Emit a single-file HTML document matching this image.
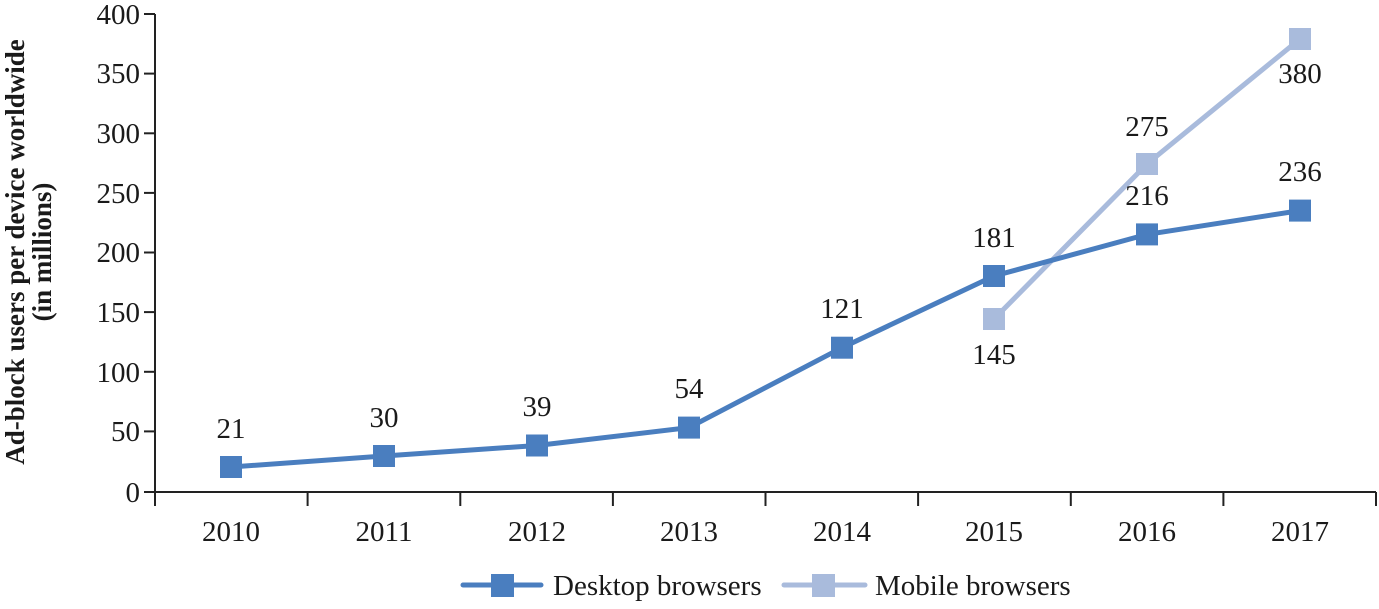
<!DOCTYPE html>
<html><head><meta charset="utf-8"><style>
body{margin:0;background:#fff}
svg text{font-family:"Liberation Serif",serif;fill:#1a1a1a}
</style></head><body>
<svg width="1379" height="604" viewBox="0 0 1379 604" xmlns="http://www.w3.org/2000/svg">
<g stroke="#222" stroke-width="2" fill="none">
<line x1="155" y1="14" x2="155" y2="506"/>
<line x1="155" y1="492" x2="1376" y2="492"/>
<line x1="144" y1="14" x2="155" y2="14"/>
<line x1="144" y1="73.6" x2="155" y2="73.6"/>
<line x1="144" y1="133.3" x2="155" y2="133.3"/>
<line x1="144" y1="192.9" x2="155" y2="192.9"/>
<line x1="144" y1="252.5" x2="155" y2="252.5"/>
<line x1="144" y1="312.1" x2="155" y2="312.1"/>
<line x1="144" y1="371.8" x2="155" y2="371.8"/>
<line x1="144" y1="431.4" x2="155" y2="431.4"/>
<line x1="144" y1="492" x2="155" y2="492"/>
<line x1="307.6" y1="492" x2="307.6" y2="506"/>
<line x1="460.3" y1="492" x2="460.3" y2="506"/>
<line x1="612.9" y1="492" x2="612.9" y2="506"/>
<line x1="765.5" y1="492" x2="765.5" y2="506"/>
<line x1="918.1" y1="492" x2="918.1" y2="506"/>
<line x1="1070.8" y1="492" x2="1070.8" y2="506"/>
<line x1="1223.4" y1="492" x2="1223.4" y2="506"/>
<line x1="1376" y1="492" x2="1376" y2="506"/>
</g>
<g font-size="29" text-anchor="end">
<text x="140" y="24">400</text><text x="140" y="83">350</text><text x="140" y="143">300</text>
<text x="140" y="203">250</text><text x="140" y="262">200</text><text x="140" y="322">150</text>
<text x="140" y="382">100</text><text x="140" y="441">50</text><text x="140" y="502">0</text>
</g>
<g font-size="29" text-anchor="middle">
<text x="231" y="541">2010</text><text x="384" y="541">2011</text><text x="537" y="541">2012</text>
<text x="689" y="541">2013</text><text x="842" y="541">2014</text><text x="994" y="541">2015</text>
<text x="1147" y="541">2016</text><text x="1300" y="541">2017</text>
</g>
<g font-size="27" font-weight="bold" text-anchor="middle">
<text transform="translate(24,252) rotate(-90)">Ad-block users per device worldwide</text>
<text transform="translate(51,252) rotate(-90)">(in millions)</text>
</g>
<polyline fill="none" stroke="#a9bbdc" stroke-width="5" points="994,319 1147,164 1300,38.9"/>
<g fill="#a9bbdc">
<rect x="983" y="308" width="22" height="22"/><rect x="1136" y="153" width="22" height="22"/><rect x="1289" y="28" width="22" height="22"/>
</g>
<polyline fill="none" stroke="#4a7ebf" stroke-width="5" points="231,467 384,456 537,445.5 689,427.6 842,347.7 994,276 1147,234.4 1300,210.6"/>
<g fill="#4a7ebf">
<rect x="220" y="456" width="22" height="22"/><rect x="373" y="445" width="22" height="22"/><rect x="526" y="434.5" width="22" height="22"/>
<rect x="678" y="416.6" width="22" height="22"/><rect x="831" y="336.7" width="22" height="22"/><rect x="983" y="265" width="22" height="22"/>
<rect x="1136" y="223.4" width="22" height="22"/><rect x="1289" y="199.6" width="22" height="22"/>
</g>
<g font-size="29" text-anchor="middle">
<text x="231" y="438">21</text><text x="384" y="427">30</text><text x="537" y="416">39</text>
<text x="689" y="398">54</text><text x="842" y="318">121</text><text x="994" y="247">181</text>
<text x="1147" y="205">216</text><text x="1300" y="181">236</text>
<text x="994" y="364">145</text><text x="1147" y="136">275</text><text x="1300" y="83">380</text>
</g>
<line x1="463" y1="585" x2="541" y2="585" stroke="#4a7ebf" stroke-width="5" stroke-linecap="round"/>
<rect x="491" y="574" width="23" height="23" fill="#4a7ebf"/>
<text x="553" y="595" font-size="29">Desktop browsers</text>
<line x1="784" y1="585" x2="865" y2="585" stroke="#a9bbdc" stroke-width="5" stroke-linecap="round"/>
<rect x="812" y="574" width="23" height="23" fill="#a9bbdc"/>
<text x="875" y="595" font-size="29">Mobile browsers</text>
</svg>
</body></html>
